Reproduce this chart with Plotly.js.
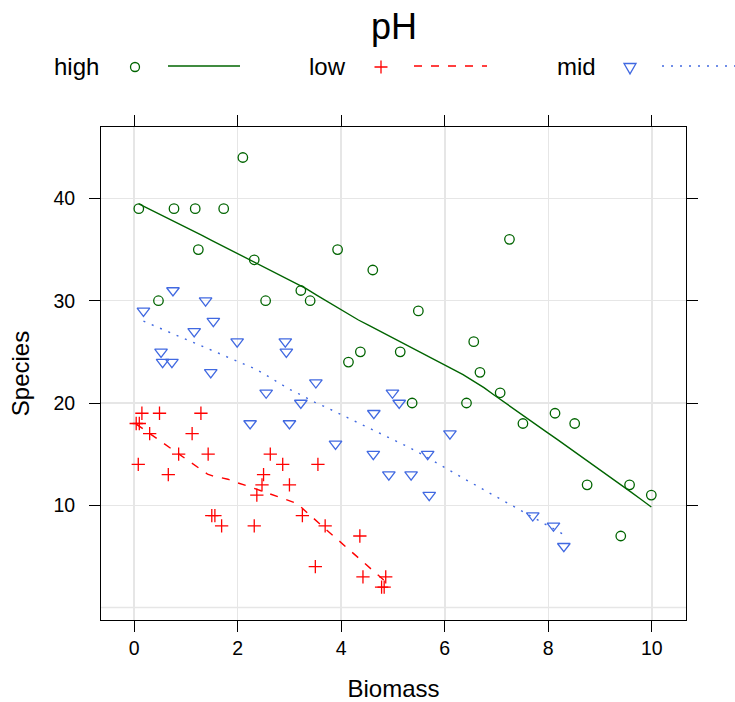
<!DOCTYPE html>
<html>
<head>
<meta charset="utf-8">
<script src="https://cdn.plot.ly/plotly-3.0.1.min.js"></script>
<style>html,body{margin:0;padding:0;background:#fff;}#chart{width:735px;height:702px;}</style>
</head>
<body>
<div id="chart"></div>
<script>
// ---- data ----
const groups = ["high", "low", "mid"];

const highBiomass = [2.10, 0.09, 0.77, 1.18, 1.73, 1.24, 2.32, 3.93, 4.61, 0.47, 2.54, 3.22, 3.40, 4.14, 4.37,
                     7.25, 5.49, 6.56, 5.14, 6.68, 5.37, 6.42, 7.07, 7.51, 8.13, 8.51, 8.75, 9.57, 9.99, 9.40];
const highSpecies = [44, 39, 39, 39, 39, 35, 34, 35, 33, 30, 30, 31, 30, 24, 25,
                     36, 29, 26, 25, 23, 20, 20, 21, 18, 19, 18, 12, 12, 11, 7];

const lowBiomass = [0.15, 0.49, 1.29, 0.04, 0.10, 0.30, 1.12, 0.86, 1.43, 0.08, 0.66, 2.63, 2.87, 3.55, 2.50,
                    2.47, 3.00, 2.37, 1.50, 1.56, 1.69, 2.32, 3.25, 3.69, 4.36, 3.50, 4.42, 4.86, 4.78, 4.83];
const lowSpecies = [19, 19, 19, 18, 18, 17, 17, 15, 15, 14, 13, 15, 14, 14, 13,
                    12, 12, 11, 9, 9, 8, 8, 9, 8, 7, 4, 3, 3, 2, 2];

const midBiomass = [0.75, 1.38, 0.18, 1.53, 1.16, 1.99, 2.92, 2.94, 0.52, 0.55, 0.73, 1.48, 2.55, 3.51, 3.22,
                    2.24, 3.00, 3.89, 4.63, 4.62, 4.99, 5.12, 6.10, 5.67, 4.92, 5.35, 5.70, 7.70, 8.10, 8.30];
const midSpecies = [31, 30, 29, 28, 27, 26, 26, 25, 25, 24, 24, 23, 21, 22, 20,
                    18, 18, 16, 19, 15, 21, 20, 17, 15, 13, 13, 11, 9, 8, 6];

const xTicks = [0, 2, 4, 6, 8, 10];
const yTicks = [10, 20, 30, 40];

// ---- loess smoother (span 2/3, degree 1, symmetric family, 4 iterations) ----
function median(a) {
  const s = a.slice().sort((p, q) => p - q);
  const m = Math.floor(s.length / 2);
  return s.length % 2 ? s[m] : (s[m - 1] + s[m]) / 2;
}
function loessSmooth(xs, ys, span, iterations, nEval) {
  const n = xs.length;
  const q = Math.floor(n * span);
  let rob = new Array(n).fill(1);
  function localFit(x0, rw) {
    const d = xs.map(x => Math.abs(x - x0));
    const h = d.slice().sort((a, b) => a - b)[q - 1] * 1.0000001;
    let sw = 0, sx = 0, sy = 0, sxx = 0, sxy = 0;
    for (let i = 0; i < n; i++) {
      const u = d[i] / h;
      if (u >= 1) continue;
      const w = Math.pow(1 - u * u * u, 3) * rw[i];
      sw += w; sx += w * xs[i]; sy += w * ys[i];
      sxx += w * xs[i] * xs[i]; sxy += w * xs[i] * ys[i];
    }
    const det = sw * sxx - sx * sx;
    if (Math.abs(det) < 1e-12) return sy / sw;
    const b = (sw * sxy - sx * sy) / det;
    const a = (sy - b * sx) / sw;
    return a + b * x0;
  }
  for (let it = 1; it <= iterations; it++) {
    const fitted = xs.map(x => localFit(x, rob));
    if (it === iterations) break;
    const res = ys.map((y, i) => y - fitted[i]);
    const cmad = 6 * median(res.map(Math.abs));
    rob = res.map(r => {
      const u = Math.abs(r) / cmad;
      if (u <= 0.001) return 1;
      if (u > 0.999) return 0;
      return Math.pow(1 - u * u, 2);
    });
  }
  const lo = Math.min(...xs), hi = Math.max(...xs);
  const ex = [], ey = [];
  for (let k = 0; k < nEval; k++) {
    const x = lo + (hi - lo) * k / (nEval - 1);
    ex.push(x); ey.push(localFit(x, rob));
  }
  return {x: ex, y: ey};
}

const colors = {high: "#006400", low: "#FF0000", mid: "#4169E1"};
const series = {
  high: {x: highBiomass, y: highSpecies, symbol: "circle-open", size: 9.5, dash: "solid"},
  low:  {x: lowBiomass,  y: lowSpecies,  symbol: "cross-thin-open", size: 9.5, dash: "8px,9px"},
  mid:  {x: midBiomass,  y: midSpecies,  symbol: "triangle-down-open", size: 11, dash: "2px,7px"}
};

const traces = [];
groups.forEach(g => {
  const s = series[g];
  traces.push({
    type: "scatter", mode: "markers", x: s.x, y: s.y, name: g, showlegend: false,
    marker: {symbol: s.symbol, size: s.size, color: colors[g], line: {color: colors[g], width: 1.3}},
    hoverinfo: "x+y"
  });
  const fit = loessSmooth(s.x, s.y, 2 / 3, 4, 50);
  traces.push({
    type: "scatter", mode: "lines", x: fit.x, y: fit.y, name: g + " smooth", showlegend: false,
    line: {color: colors[g], width: 1.4, dash: s.dash}, hoverinfo: "skip"
  });
});

// ---- layout ----
const W = 735, H = 702, mL = 101, mR = 49, mT = 127, mB = 82;
const pw = W - mL - mR, ph = H - mT - mB;
const px = v => (v - mL) / pw;
const py = v => (H - mB - v) / ph;
const legY = 66;
const font = "Liberation Sans, Arial, Helvetica, sans-serif";

const legendItems = [
  {g: "high", textRight: 101, key: 135, l0: 168, l1: 240},
  {g: "low",  textRight: 348, key: 381, l0: 414, l1: 487},
  {g: "mid",  textRight: 598, key: 630, l0: 662, l1: 735}
];
const shapes = [
  {type: "line", xref: "paper", yref: "y", x0: 0, x1: 1, y0: 0, y1: 0,
   line: {color: "#e6e6e6", width: 1.5}, layer: "below"}
];
const annotations = [];
legendItems.forEach(it => {
  annotations.push({text: it.g, xref: "paper", yref: "paper", x: px(it.textRight), y: py(legY),
    xanchor: "right", yanchor: "middle", showarrow: false, font: {family: font, size: 24, color: "#000"}});
  const c = colors[it.g];
  const base = {xref: "paper", yref: "paper", xsizemode: "pixel", ysizemode: "pixel",
    xanchor: px(it.key), yanchor: py(legY + 1)};
  if (it.g === "high") {
    shapes.push(Object.assign({type: "circle", x0: -4.5, x1: 4.5, y0: -4.5, y1: 4.5,
      line: {color: c, width: 1.3}}, base));
  } else if (it.g === "low") {
    shapes.push(Object.assign({type: "path", path: "M-6.5,0H6.5M0,-6.5V6.5",
      line: {color: c, width: 1.3}}, base));
  } else {
    shapes.push(Object.assign({type: "path", path: "M-6,3.5L6,3.5L0,-6.9Z",
      line: {color: c, width: 1.3}}, base));
  }
  shapes.push({type: "line", xref: "paper", yref: "paper", x0: px(it.l0), x1: px(it.l1),
    y0: py(legY), y1: py(legY), line: {color: c, width: 1.4, dash: series[it.g].dash}});
});

const axisCommon = {
  showline: true, linecolor: "#000", linewidth: 1, mirror: "allticks",
  ticks: "outside", ticklen: 11, tickwidth: 1, tickcolor: "#000",
  showgrid: true, gridcolor: "#e6e6e6", gridwidth: 1.5, zeroline: false,
  tickfont: {family: font, size: 19.5, color: "#000"}, automargin: false, fixedrange: true
};

const layout = {
  width: W, height: H,
  margin: {l: mL, r: mR, t: mT, b: mB, pad: 0},
  paper_bgcolor: "#fff", plot_bgcolor: "#fff",
  font: {family: font, color: "#000"},
  showlegend: false,
  title: {text: "pH", font: {family: font, size: 36, color: "#000"},
          xref: "container", x: 394 / W, xanchor: "center",
          yref: "container", y: 1 - 26 / H, yanchor: "middle"},
  xaxis: Object.assign({}, axisCommon, {
    range: [-0.64, 10.66], tickvals: xTicks, ticktext: xTicks.map(String),
    title: {text: "Biomass", font: {family: font, size: 24, color: "#000"}, standoff: 21}
  }),
  yaxis: Object.assign({}, axisCommon, {
    range: [-1.21, 46.98], tickvals: yTicks, ticktext: yTicks.map(String),
    ticklabelstandoff: 10,
    title: {text: "Species", font: {family: font, size: 24, color: "#000"}, standoff: 16}
  }),
  shapes: shapes,
  annotations: annotations
};

Plotly.newPlot("chart", traces, layout, {displayModeBar: false, staticPlot: true});
</script>
</body>
</html>
